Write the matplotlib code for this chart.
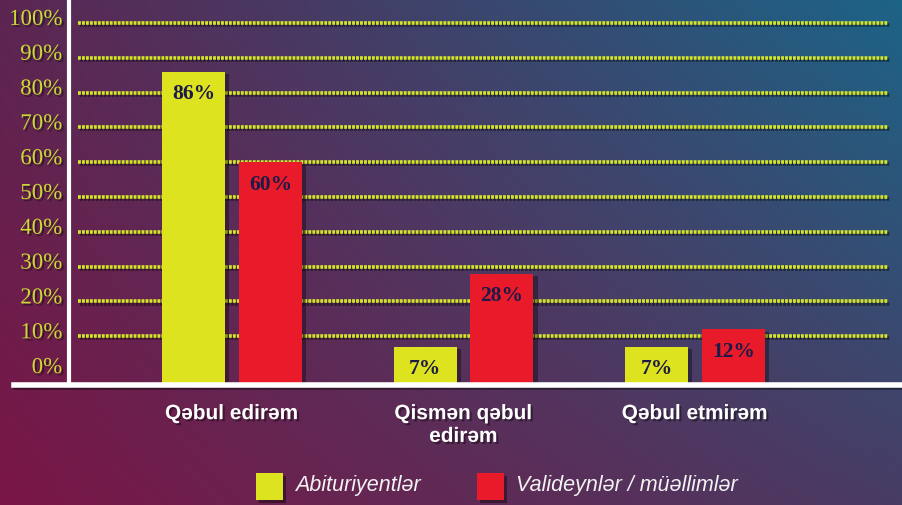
import numpy as np
import matplotlib
matplotlib.use("Agg")
import matplotlib.pyplot as plt
import matplotlib.patheffects as pe
from matplotlib.patches import Rectangle

# chart data
categories = ["Qəbul edirəm", "Qismən qəbul\nedirəm", "Qəbul etmirəm"]
abituriyent = [86, 7, 7]
valideyn = [60, 28, 12]
value_labels_a = ["86%", "7%", "7%"]
value_labels_v = ["60%", "28%", "12%"]
yticks = [0, 10, 20, 30, 40, 50, 60, 70, 80, 90, 100]
series_names = ["Abituriyentlər", "Valideynlər / müəllimlər"]

YELLOW = "#dde31f"
RED = "#e91b2a"
TICK_COL = "#c9db34"
GRID_COL = "#d4e52c"
NAVY = "#1c1a48"

W, H = 903, 505
fig = plt.figure(figsize=(W / 100, H / 100), dpi=100)

# background gradient (four corner colours, bilinear)
bg = fig.add_axes([0, 0, 1, 1])
tl = np.array([92, 38, 82]) / 255
tr = np.array([28, 100, 135]) / 255
bl = np.array([122, 22, 70]) / 255
br = np.array([72, 60, 100]) / 255
u = np.linspace(0, 1, 200)[None, :, None]
v = np.linspace(0, 1, 120)[:, None, None]
img = (1 - v) * ((1 - u) * tl + u * tr) + v * ((1 - u) * bl + u * br)
bg.imshow(img, aspect="auto", extent=[0, 1, 0, 1], interpolation="bilinear")
bg.axis("off")


def px(x0, y0, x1, y1):
    # pixel box (top-left origin) -> figure fraction
    return [x0 / W, 1 - y1 / H, (x1 - x0) / W, (y1 - y0) / H]


ax = fig.add_axes(px(69, 2, 903, 385))
ax.patch.set_alpha(0)
ymin, ymax = -4, 106
ax.set_ylim(ymin, ymax)
ax.set_xlim(-0.704, 2.898)

shadow = [pe.SimpleLineShadow(offset=(1.5, -1.5), shadow_color="black", alpha=0.45), pe.Normal()]

# dotted gridlines
for t in yticks[1:]:
    ax.hlines(t, -0.665, 2.834, colors=GRID_COL, linestyles=(0, (0.8, 0.3)), lw=2.6,
              zorder=1, path_effects=shadow)

x = np.arange(len(categories))
off, bw = 0.166, 0.272
for xs, vals, col, labs in [(x - off, abituriyent, YELLOW, value_labels_a),
                            (x + off, valideyn, RED, value_labels_v)]:
    bars = ax.bar(xs, np.array(vals) - ymin, bottom=ymin, width=bw, color=col, zorder=3,
                  path_effects=[pe.SimplePatchShadow(offset=(3, -2), shadow_rgbFace="black", alpha=0.35),
                                pe.Normal()])
    for xi, val, lab in zip(xs, vals, labs):
        ax.text(xi, val - 3.6, lab, ha="center", va="top", color=NAVY, fontsize=15.5,
                fontweight="bold", family="Liberation Serif", zorder=4)

# axis lines
for s in ax.spines.values():
    s.set_visible(False)
ax.set_xticks([])
ax.set_yticks([])
ax.plot([0, 0], [0, 1], transform=ax.transAxes, color="white", lw=3, clip_on=False, zorder=5)
ax.plot([(14 - 69) / 834, 1], [0, 0], transform=ax.transAxes, color="white", lw=4,
        clip_on=False, zorder=5, path_effects=shadow)

# y tick labels
for t in yticks:
    ax.annotate(f"{t}%", xy=(0, t), xycoords=("axes fraction", "data"), xytext=(-5, 2.5),
                textcoords="offset points", ha="right", va="center", fontsize=16.5,
                color=TICK_COL, family="Liberation Serif",
                path_effects=[pe.withSimplePatchShadow(offset=(1.5, -1.5), shadow_rgbFace="black", alpha=0.4)])

# category labels
for xi, cat in zip(x, categories):
    ax.text(xi, ymin - 5.5, cat, ha="center", va="top", color="white", fontsize=15,
            fontweight="bold", family=["Liberation Sans", "DejaVu Sans"], linespacing=1.25,
            path_effects=[pe.withSimplePatchShadow(offset=(1.5, -1.5), shadow_rgbFace="black", alpha=0.4)])

# legend
for (x0, name, col) in [(256, series_names[0], YELLOW), (477, series_names[1], RED)]:
    fig.patches.append(Rectangle((x0 / W, 1 - 500 / H), 27 / W, 27 / H, transform=fig.transFigure,
                                 facecolor=col, edgecolor="none",
                                 path_effects=[pe.SimplePatchShadow(offset=(2, -2), shadow_rgbFace="black", alpha=0.4),
                                               pe.Normal()]))
    fig.text((x0 + 39) / W, 1 - 486 / H, name, ha="left", va="center", color="#f2f2f2",
             fontsize=15.5, style="italic", family=["Liberation Sans", "DejaVu Sans"])

fig.savefig("out.png", dpi=100)
